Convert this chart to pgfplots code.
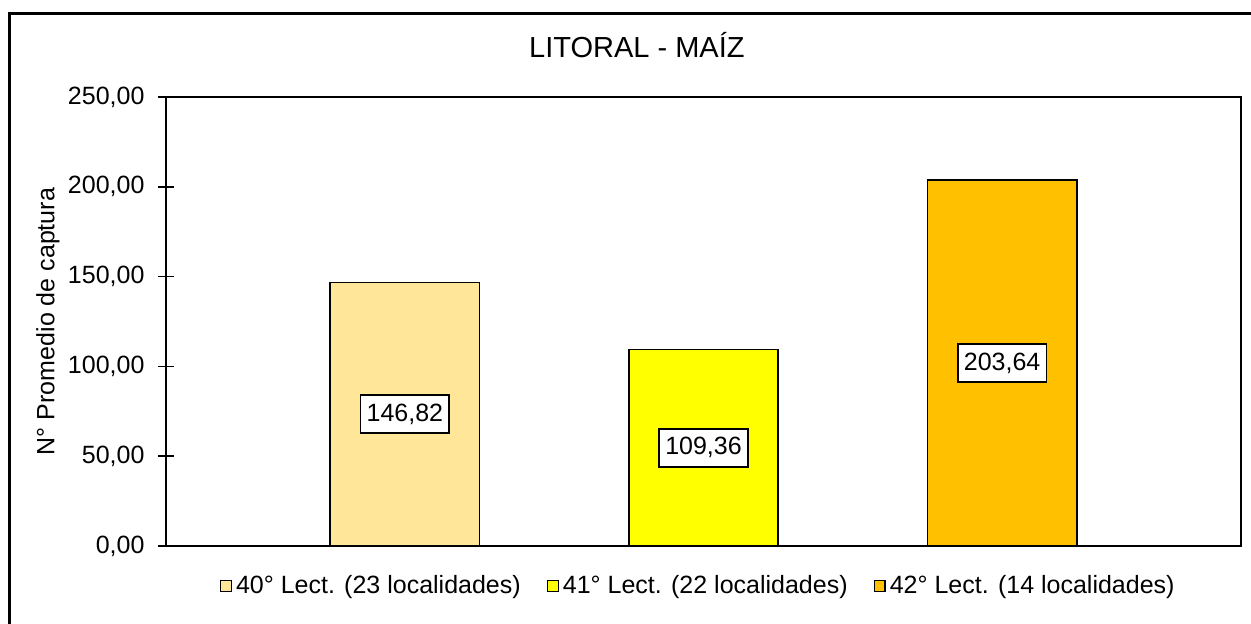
\documentclass[border=0pt]{standalone}
\usepackage{fontspec}
\setmainfont{Liberation Sans}
\usepackage{pgfplots}
\pgfplotsset{compat=1.18}
\definecolor{c40}{HTML}{FFE699}
\definecolor{c41}{HTML}{FFFF00}
\definecolor{c42}{HTML}{FFC000}
\pgfplotsset{
  sqleg/.style={legend image code/.code={\draw[##1,draw=black,line width=0.7pt] (0pt,-2.7pt) rectangle (5.4pt,2.7pt);}},
}
\newcommand{\lbl}{\fontsize{12.5}{15}\selectfont}

\begin{document}
\begin{tikzpicture}
\useasboundingbox (-83pt,-38.5pt) rectangle (542.5pt,273pt);
\begin{axis}[
  at={(0,0)}, anchor=south west, scale only axis,
  width=537.5pt, height=224.5pt,
  ybar, bar width=0.5, bar shift=0pt,
  xmin=-1.8, xmax=1.8, ymin=0, ymax=250,
  xtick=\empty, ytick={0,50,...,250}, ytick pos=left,
  tick align=center, major tick length=7.5pt,
  ytick style={black, line width=0.8pt},
  axis line style={black, line width=0.9pt},
  yticklabel style={font=\lbl, xshift=-3.5pt, /pgf/number format/.cd, fixed, fixed zerofill, precision=2, use comma, assume math mode=true},
  ylabel={N° Promedio de captura},
  ylabel style={font=\lbl, at={(axis description cs:-0.1098,0.5)}, anchor=center},
  title={LITORAL - MAÍZ},
  title style={at={(0.438,1)}, anchor=center, yshift=20pt, font=\fontsize{14.5}{17}\selectfont},
  legend style={at={(0.496,0)}, anchor=center, yshift=-20pt, legend columns=3, draw=none, fill=none, font=\lbl,
    /tikz/every even column/.append style={column sep=11pt}},
  nodes near coords={\pgfmathprintnumber[fixed,fixed zerofill,precision=2,use comma,assume math mode=true]{\pgfplotspointmeta}},
  visualization depends on={rawy \as \rawy},
  every node near coord/.append style={anchor=center, shift={(axis direction cs:0,-\rawy/2)}, draw=black, fill=white, line width=0.8pt, inner xsep=3pt, minimum height=19pt, font=\lbl, text=black},
]
\addplot[fill=c40, draw=black, line width=0.8pt, sqleg] coordinates {(-1,146.82)};
\addlegendentry{40° Lect. (23 localidades)}
\addplot[fill=c41, draw=black, line width=0.8pt, sqleg] coordinates {(0,109.36)};
\addlegendentry{41° Lect. (22 localidades)}
\addplot[fill=c42, draw=black, line width=0.8pt, sqleg] coordinates {(1,203.64)};
\addlegendentry{42° Lect. (14 localidades)}
\end{axis}
\draw[line width=1.5pt] (-78pt,-40pt) -- (-78pt,266.5pt) -- (544pt,266.5pt);
\end{tikzpicture}
\end{document}
